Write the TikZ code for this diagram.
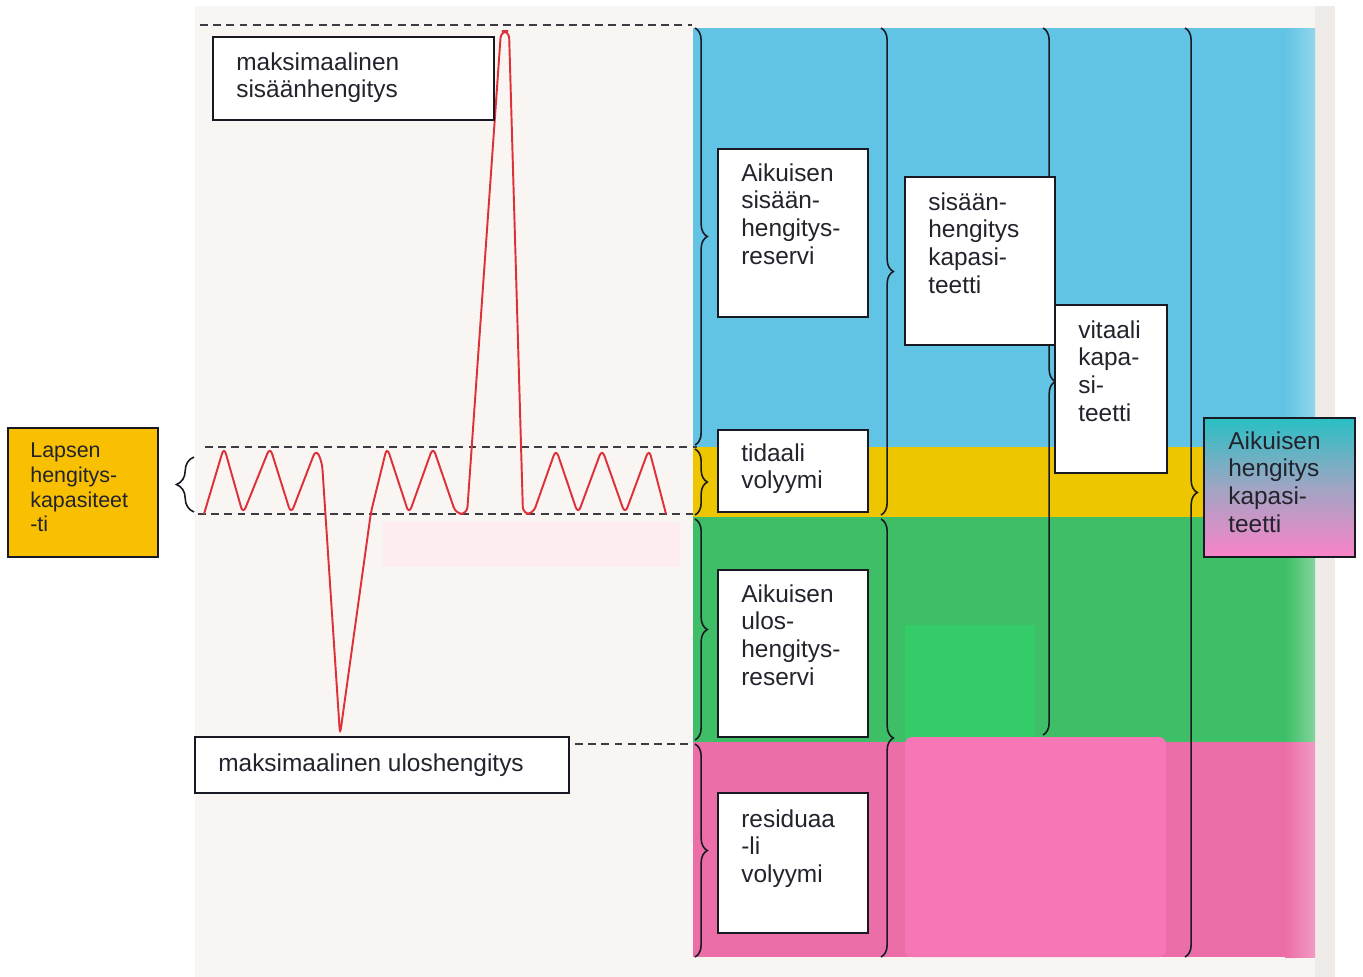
\documentclass[tikz,border=0pt]{standalone}
\usepackage{fontspec}
\setmainfont{Liberation Sans}
\usetikzlibrary{decorations.pathreplacing,fit}
\definecolor{paper}{RGB}{248,245,243}
\definecolor{paperedge}{RGB}{238,235,233}
\definecolor{bandblue}{RGB}{98,196,228}
\definecolor{bandyellow}{RGB}{238,198,0}
\definecolor{bandgreen}{RGB}{62,190,102}
\definecolor{brightgreen}{RGB}{52,204,104}
\definecolor{bandpink}{RGB}{236,110,168}
\definecolor{brightpink}{RGB}{247,118,182}
\definecolor{lapsen}{RGB}{248,192,0}
\definecolor{gradtop}{RGB}{40,192,196}
\definecolor{gradmid}{RGB}{160,165,195}
\definecolor{gradbot}{RGB}{250,130,200}
\definecolor{curvered}{RGB}{222,48,56}
\definecolor{ink}{RGB}{25,25,35}
\definecolor{txtcol}{RGB}{35,35,45}
\definecolor{faintpink}{RGB}{253,236,240}
\begin{document}
\begin{tikzpicture}[x=0.02cm,y=-0.02cm,
  box/.style={draw=ink, line width=1.3pt, fill=white, inner sep=0pt},
  txt/.style={align=left, inner sep=0pt, anchor=north west, text=txtcol,
    font=\fontsize{13.9}{15.9}\selectfont},
  smalltxt/.style={txt, font=\fontsize{12.2}{14.2}\selectfont},
  rbrace/.style={draw=ink, line width=0.9pt, decorate,
    decoration={brace, amplitude=7pt}},
  guide/.style={draw=ink!85, line width=0.8pt, dash pattern=on 4.5pt off 3pt},
  breath/.style={draw=curvered, line width=1.1pt, rounded corners=4pt}]
\useasboundingbox (0,0) rectangle (1363,977);
\fill[white] (0,0) rectangle (1363,977);
% paper
\fill[paper] (195,6) rectangle (1335,977);
\fill[paperedge] (1315,6) rectangle (1335,977);
\fill[faintpink] (383,522) rectangle (680,567);
% bands
\fill[bandblue] (693,28) rectangle (1286,447);
\shade[left color=bandblue, right color=bandblue!70!white] (1285,28) rectangle (1315,447);
\fill[bandyellow] (693,447) rectangle (1286,517);
\shade[left color=bandyellow, right color=bandyellow!70!white] (1285,447) rectangle (1315,517);
\fill[bandgreen] (693,517) rectangle (1286,742);
\shade[left color=bandgreen, right color=bandgreen!65!white] (1285,517) rectangle (1315,742);
\fill[bandpink] (693,742) rectangle (1286,957);
\shade[left color=bandpink, right color=bandpink!70!white] (1285,742) rectangle (1315,957);
\fill[brightgreen] (905,625) rectangle (1035,738);
\fill[brightpink, rounded corners=4pt] (905,737) rectangle (1166,957);
% guide coordinates
\coordinate (g1a) at (200,25);  \coordinate (g1b) at (692,25);
\coordinate (g2a) at (205,447); \coordinate (g2b) at (697,447);
\coordinate (g3a) at (198,514); \coordinate (g3b) at (697,514);
\coordinate (g4a) at (575,744); \coordinate (g4b) at (690,744);
\draw[guide] (g1a) -- (g1b);
\draw[guide] (g2a) -- (g2b);
\draw[guide] (g3a) -- (g3b);
\draw[guide] (g4a) -- (g4b);
% braces column 1
\draw[rbrace] (695,28) -- (695,445);
\draw[rbrace] (695,449) -- (695,515);
\draw[rbrace] (695,519) -- (695,740);
\draw[rbrace] (695,744) -- (695,957);
% column 2
\draw[rbrace] (881,28) -- (881,515);
\draw[rbrace] (881,519) -- (881,957);
% column 3
\draw[rbrace] (1043,28) -- (1043,735);
% column 4
\draw[rbrace] (1185,28) -- (1185,957);
% child brace
\draw[draw=ink, line width=0.9pt, decorate, decoration={brace, amplitude=10pt}] (194,512) -- (194,457);
% breathing curve
\draw[breath] (204,514) -- (224,447) -- (243,514) -- (270,447) -- (291,514) -- (316,449) -- (322,462)
  -- (340,735) -- (371,512) -- (387,447) -- (409,514) -- (433,447) -- (456,514) -- (467,514)
  -- (501,31) -- (509,31) -- (523,514) -- (533,514) -- (556,449) -- (578,514) -- (602,449)
  -- (625,514) -- (649,449) -- (666,514);
% boxes
\node[box, fit={(213,37) (494,120)}] (bmaxin) {};
\node[txt] (tmaxin) at (236,52) {maksimaalinen\\sisäänhengitys};
\node[box, fit={(718,149) (868,317)}] (birv) {};
\node[txt] (tirv) at (741,163) {Aikuisen\\sisään-\\hengitys-\\reservi};
\node[box, fit={(718,430) (868,512)}] (btv) {};
\node[txt] (ttv) at (741,443) {tidaali\\volyymi};
\node[box, fit={(718,570) (868,737)}] (berv) {};
\node[txt] (terv) at (741,584) {Aikuisen\\ulos-\\hengitys-\\reservi};
\node[box, fit={(718,793) (868,933)}] (brv) {};
\node[txt] (trv) at (741,809) {residuaa\\-li\\volyymi};
\node[box, fit={(905,177) (1055,345)}] (bic) {};
\node[txt] (tic) at (928,192) {sisään-\\hengitys\\kapasi-\\teetti};
\node[box, fit={(1055,305) (1167,473)}] (bvc) {};
\node[txt] (tvc) at (1078,320) {vitaali\\kapa-\\si-\\teetti};
\node[box, fit={(1204,418) (1355,557)}, top color=gradtop, bottom color=gradbot, middle color=gradmid] (btlc) {};
\node[txt] (ttlc) at (1228,431) {Aikuisen\\hengitys\\kapasi-\\teetti};
\node[box, fit={(8,428) (158,557)}, fill=lapsen] (blapsen) {};
\node[smalltxt] (tlapsen) at (30,442) {Lapsen\\hengitys-\\kapasiteet\\-ti};
\node[box, fit={(195,737) (569,793)}] (bmaxout) {};
\node[txt] (tmaxout) at (218,753) {maksimaalinen uloshengitys};
\end{tikzpicture}
\end{document}
